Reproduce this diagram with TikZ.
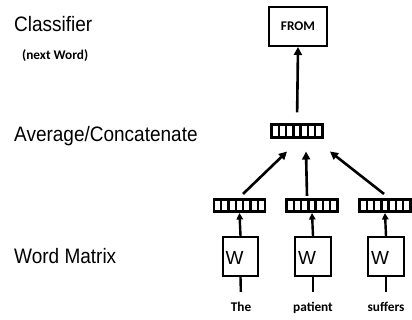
\documentclass[tikz,border=0pt]{standalone}
\usepackage{fontspec}
\setmainfont{Liberation Sans}
\newfontfamily\calfont{Carlito}
\usetikzlibrary{arrows.meta,calc}
\tikzset{
  lbl/.style={anchor=base west, inner sep=0pt, font=\fontsize{19}{22}\selectfont, yscale=1.1},
  small/.style={anchor=base west, inner sep=0pt, font=\calfont\bfseries\fontsize{13.3}{15}\selectfont},
  word/.style={anchor=base, inner sep=2pt, text height=9pt, text depth=3pt, font=\calfont\bfseries\fontsize{13.3}{15}\selectfont},
  outbox/.style={draw, line width=2pt, minimum width=58pt, minimum height=39pt, inner sep=0pt, font=\calfont\bfseries\fontsize{13.3}{15}\selectfont},
  wbox/.style={draw, line width=1.6pt, minimum width=35.5pt, minimum height=39.5pt, inner sep=0pt},
  wlet/.style={anchor=west, inner sep=0pt, font=\fontsize{19}{22}\selectfont},
  vec/.style={draw, line width=2.6pt, minimum width=51pt, minimum height=12.5pt, inner sep=0pt,
    path picture={\foreach \i in {1,...,6}{\draw[line width=2.4pt] ($(path picture bounding box.south west)!\i/7!(path picture bounding box.south east)$) -- ++(0pt,20pt);}}},
  arr/.style={line width=2.6pt, -{Triangle[length=8pt,width=8pt]}},
  arrs/.style={line width=2.4pt, -{Triangle[length=6.5pt,width=6.5pt]}},
  ln/.style={line width=2.4pt}
}
\begin{document}
\begin{tikzpicture}[x=1pt,y=-1pt]
\useasboundingbox (0,0) rectangle (412,320);
% left labels
\node[lbl] (cls) at (14,31.5) {Classifier};
\node[small] (nw) at (22,59.5) {(next Word)};
\node[lbl] (avgl) at (14,142) {Average/Concatenate};
\node[lbl] (wml) at (14,263) {Word Matrix};
% output
\node[outbox] (from) at (298,26.5) {FROM};
% vectors
\node[vec] (avg) at (297,131) {};
\node[vec] (v1) at (239.5,205.5) {};
\node[vec] (v2) at (312,205.5) {};
\node[vec] (v3) at (385,205.5) {};
% W boxes
\node[wbox] (w1) at (240.5,256.5) {};
\node[wbox] (w2) at (313,256.5) {};
\node[wbox] (w3) at (386,256.5) {};
\node[wlet] (w1t) at ([xshift=3.5pt,yshift=-1.5pt]w1.west) {W};
\node[wlet] (w2t) at ([xshift=3.5pt,yshift=-1.5pt]w2.west) {W};
\node[wlet] (w3t) at ([xshift=3.5pt,yshift=-1.5pt]w3.west) {W};
% words
\node[word] (t1) at (241,311) {The};
\node[word] (t2) at (313,311) {patient};
\node[word] (t3) at (386,311) {suffers};
% connectors
\draw[arr, shorten <=11pt] (avg.north) -- (from.south);
\draw[arr] ([xshift=3.5pt,yshift=4pt]v1.north) -- ([xshift=-10pt,yshift=-13pt]avg.south);
\draw[arr] ([xshift=-5pt,yshift=2pt]v2.north) -- ([xshift=9pt,yshift=-13pt]avg.south);
\draw[arr] ([xshift=-1pt,yshift=4pt]v3.north) -- ([xshift=33pt,yshift=-13pt]avg.south);
\draw[arrs] (w1.north) -- (v1.south);
\draw[arrs] (w2.north) -- (v2.south);
\draw[arrs] (w3.north) -- (v3.south);
\draw[ln, shorten >=8pt] (w1.south) -- (t1.north);
\draw[ln, shorten >=8pt] (w2.south) -- (t2.north);
\draw[ln, shorten >=8pt] (w3.south) -- (t3.north);
\end{tikzpicture}
\end{document}
